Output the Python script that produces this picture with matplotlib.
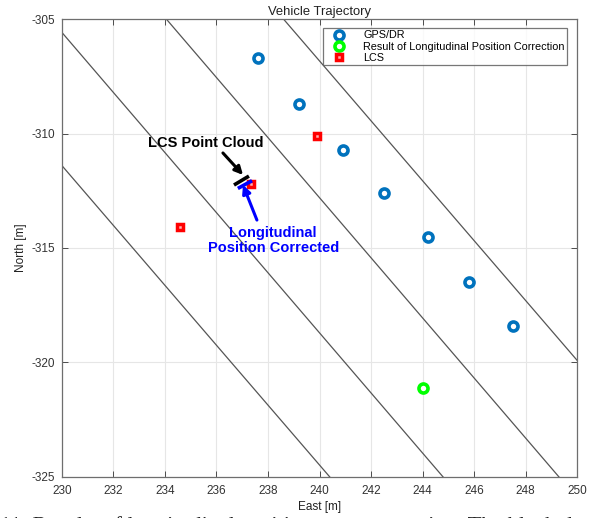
import matplotlib
matplotlib.use('Agg')
import matplotlib.pyplot as plt

plt.rcParams['font.family'] = ['Liberation Sans', 'DejaVu Sans']
plt.rcParams['axes.unicode_minus'] = False

# GPS/DR trajectory (East, North)
gps_east = [237.6, 239.2, 240.9, 242.5, 244.2, 245.8, 247.5]
gps_north = [-306.7, -308.7, -310.7, -312.6, -314.5, -316.5, -318.4]

# longitudinal position correction result
corr_east = [244.0]
corr_north = [-321.1]

# LCS points
lcs_east = [239.9, 234.6, 237.35]
lcs_north = [-310.1, -314.1, -312.2]

# lane lines, end points
lane_east = [[225.1, 240.4], [229.55, 244.8], [234.05, 249.3], [238.6, 253.9]]
lane_north = [[-305.0, -325.0], [-305.0, -325.0], [-305.0, -325.0], [-305.0, -325.0]]

# point cloud segments
cloud_east = [236.68, 237.26]
cloud_north = [-312.25, -311.86]
cloud_corr_east = [236.83, 237.38]
cloud_corr_north = [-312.40, -312.06]

blue = (0.0, 0.447, 0.741)

fig = plt.figure(figsize=(6.0, 5.18), dpi=100)
ax = fig.add_axes([0.1033, 0.0792, 0.8584, 0.8841])

for xs, ys in zip(lane_east, lane_north):
    ax.plot(xs, ys, color='#555555', linewidth=0.9, zorder=2)

ax.plot(gps_east, gps_north, 'o', color=blue, markerfacecolor='white',
        markeredgewidth=2.6, markersize=6.5, label='GPS/DR', zorder=4)
ax.plot(corr_east, corr_north, 'o', color=(0, 1, 0), markerfacecolor='white',
        markeredgewidth=2.6, markersize=6.5,
        label='Result of Longitudinal Position Correction', zorder=4)
ax.plot(lcs_east, lcs_north, 's', color='red', markerfacecolor='#ffb0b0',
        markeredgewidth=2.5, markersize=5, label='LCS', zorder=4)

ax.plot(cloud_east, cloud_north, color='black', linewidth=2.6,
        solid_capstyle='butt', zorder=5)
ax.plot(cloud_corr_east, cloud_corr_north, color='blue', linewidth=2.6,
        solid_capstyle='butt', zorder=5)

# labels and arrows
ax.text(235.6, -310.4, 'LCS Point Cloud', ha='center', va='center',
        fontsize=10.5, fontweight='bold', color='black', zorder=6)
ax.annotate('', xy=(237.03, -311.81), xytext=(236.25, -310.85),
            arrowprops=dict(arrowstyle='-|>', color='black', lw=2.2,
                            shrinkA=0, shrinkB=0, mutation_scale=12),
            zorder=6)
ax.text(238.2, -314.67, 'Longitudinal\nPosition Corrected', ha='center',
        va='center', fontsize=10.5, fontweight='bold', color='blue',
        linespacing=1.05, zorder=6)
ax.annotate('', xy=(237.03, -312.25), xytext=(237.57, -313.78),
            arrowprops=dict(arrowstyle='-|>', color='blue', lw=2.2,
                            shrinkA=0, shrinkB=0, mutation_scale=12),
            zorder=6)

ax.set_xlim(230, 250)
ax.set_ylim(-325, -305)
ax.set_xticks(range(230, 251, 2))
ax.set_yticks(range(-325, -304, 5))
ax.grid(True, color='#e6e6e6', linewidth=0.8, zorder=0)
ax.set_axisbelow(True)
ax.tick_params(direction='in', top=True, right=True, labelsize=8.5,
               colors='#333333', length=4, width=0.6)
ax.tick_params(axis='x', pad=6)
ax.tick_params(axis='y', pad=5)
for s in ax.spines.values():
    s.set_color('#6e6e6e')
    s.set_linewidth(0.9)

ax.set_title('Vehicle Trajectory', fontsize=9.4, pad=3, color='#222222')
ax.set_xlabel('East [m]', fontsize=8.5, labelpad=3, color='#222222')
ax.set_ylabel('North [m]', fontsize=8.5, labelpad=3, color='#222222')

leg = ax.legend(loc='upper right', bbox_to_anchor=(0.981, 0.981),
                borderaxespad=0, fontsize=7.8, frameon=True, fancybox=False,
                handletextpad=1.0, borderpad=0.25, labelspacing=0.1,
                handlelength=2.4)
leg.get_frame().set_edgecolor('#555555')
leg.get_frame().set_linewidth(0.9)

# figure caption, running off the bottom edge
fig.text(0.0, -0.026, '11. Results of longitudinal position error correction. The black dot',
         fontsize=16, family='Liberation Serif', va='baseline', ha='left',
         color='#222222')

fig.savefig('out.png', dpi=100)
